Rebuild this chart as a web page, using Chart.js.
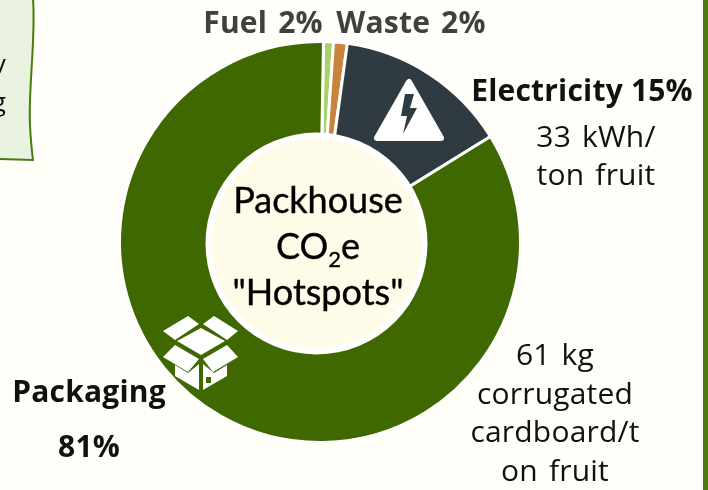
<!DOCTYPE html>
<html>
<head>
<meta charset="utf-8">
<title>Packhouse CO2e Hotspots</title>
<script src="https://cdn.jsdelivr.net/npm/chart.js@4/dist/chart.umd.min.js"></script>
<style>
    html, body { margin: 0; padding: 0; background: #fffef8; }
    #wrap { position: relative; width: 708px; height: 490px; overflow: hidden; font-family: "Open Sans", "Noto Sans", sans-serif; }
    canvas { position: absolute; left: 0; top: 0; }
    .txt { position: absolute; transform: translateX(-50%); white-space: nowrap; text-align: center; color: #111; font-size: 30px; line-height: 32px; letter-spacing: 0.2px; word-spacing: 3px; }
    .b { font-weight: 700; }
    .grey { color: #404040; }
    .center { font-family: Lato, "Noto Sans", sans-serif; font-size: 36px; line-height: 46px; color: #000; -webkit-text-stroke: 0.4px #000; letter-spacing: 0; }
    sub { font-size: 22px; line-height: 0; }
</style>
</head>
<body>
<div id="wrap">
    <canvas id="chart" width="708" height="490"></canvas>
    <div class="txt b grey" style="left:263px;top:6px">Fuel 2%</div>
    <div class="txt b grey" style="left:411px;top:6px">Waste 2%</div>
    <div class="txt b" style="left:582px;top:74px;word-spacing:0">Electricity 15%</div>
    <div class="txt" style="left:596px;top:117px;line-height:38px">33 kWh/<br>ton fruit</div>
    <div class="txt" style="left:555px;top:335px;line-height:38.7px">61 kg<br>corrugated<br>cardboard/t<br>on fruit</div>
    <div class="txt b" style="left:89px;top:375px">Packaging</div>
    <div class="txt b" style="left:89px;top:430px">81%</div>
    <div class="txt center" style="left:318px;top:176px">Packhouse<br>CO<sub>2</sub>e<br>"Hotspots"</div>
    <div class="txt" style="left:2px;top:44px;font-size:26px;line-height:38px;text-align:right;transform:none;width:4px;direction:rtl">v<br>g</div>
</div>
<script>
const categories = ["Fuel", "Waste", "Electricity", "Packaging"];
const shares = [0.8, 1.1, 14.0, 84.1];
const sliceColors = ["#a9d26a", "#c8843f", "#2f3a41", "#3f6900"];

const GREEN = "#4a7a10";

// note box from the slide, cut off by the crop, plus the page rule on the right
const backdrop = {
    id: "backdrop",
    beforeDraw(chart) {
        const { ctx } = chart;
        ctx.save();
        ctx.beginPath();
        ctx.moveTo(-2, -2);
        ctx.lineTo(33, -2);
        ctx.bezierCurveTo(36, 40, 28, 90, 30, 125);
        ctx.quadraticCurveTo(31, 145, 33, 160);
        ctx.lineTo(-2, 159);
        ctx.closePath();
        ctx.fillStyle = "#e9f3df";
        ctx.fill();
        ctx.strokeStyle = GREEN;
        ctx.lineWidth = 2;
        ctx.stroke();
        ctx.fillStyle = GREEN;
        ctx.fillRect(703, 0, 5, 490);
        ctx.restore();
    }
};

// hole of the ring (sits slightly off the ring centre in the original) and the two pictograms
const decorations = {
    id: "decorations",
    afterDatasetsDraw(chart) {
        const { ctx } = chart;
        ctx.save();
        ctx.beginPath();
        ctx.arc(316.5, 243.5, 111, 0, Math.PI * 2);
        ctx.fillStyle = "#ffffff";
        ctx.fill();
        ctx.beginPath();
        ctx.arc(316.5, 243.5, 105, 0, Math.PI * 2);
        ctx.fillStyle = "#fefce8";
        ctx.fill();

        // warning triangle
        ctx.fillStyle = "#ffffff";
        ctx.strokeStyle = "#ffffff";
        ctx.lineWidth = 6;
        ctx.lineJoin = "round";
        ctx.beginPath();
        ctx.moveTo(409, 82);
        ctx.lineTo(377, 138);
        ctx.lineTo(441, 138);
        ctx.closePath();
        ctx.fill();
        ctx.stroke();
        ctx.fillStyle = "#2f3a41";
        ctx.beginPath();
        ctx.moveTo(405, 94);
        ctx.lineTo(414, 94);
        ctx.lineTo(410, 108);
        ctx.lineTo(417, 108);
        ctx.lineTo(403, 134);
        ctx.lineTo(407, 116);
        ctx.lineTo(401, 116);
        ctx.closePath();
        ctx.fill();

        // open box
        ctx.fillStyle = "#ffffff";
        const polys = [
            [[163, 331], [188, 316], [199, 324], [175, 340]],
            [[203, 324], [214, 316], [238, 331], [227, 340]],
            [[177, 341], [201, 328], [225, 341], [201, 355]],
            [[175, 345], [199, 359], [188, 372], [163, 357]],
            [[227, 345], [238, 357], [213, 372], [203, 359]],
            [[175, 365], [188, 373], [199, 364], [199, 390], [175, 376]],
            [[203, 364], [214, 373], [227, 365], [227, 376], [203, 390]]
        ];
        polys.forEach((pts) => {
            ctx.beginPath();
            pts.forEach(([x, y], i) => (i ? ctx.lineTo(x, y) : ctx.moveTo(x, y)));
            ctx.closePath();
            ctx.fill();
        });
        ctx.fillStyle = "#3f6900";
        ctx.fillRect(206, 377, 5, 6);
        ctx.restore();
    }
};

new Chart(document.getElementById("chart"), {
    type: "doughnut",
    data: {
        labels: categories,
        datasets: [
            {
                data: shares,
                backgroundColor: sliceColors,
                borderColor: "#ffffff",
                borderWidth: 3,
                borderAlign: "center"
            }
        ]
    },
    options: {
        responsive: false,
        animation: false,
        rotation: 1,
        cutout: "50%",
        layout: {
            padding: { left: 118, right: 186, top: 40, bottom: 46 }
        },
        plugins: {
            legend: {
                display: false
            },
            tooltip: {
                enabled: false
            }
        }
    },
    plugins: [backdrop, decorations]
});
</script>
</body>
</html>
